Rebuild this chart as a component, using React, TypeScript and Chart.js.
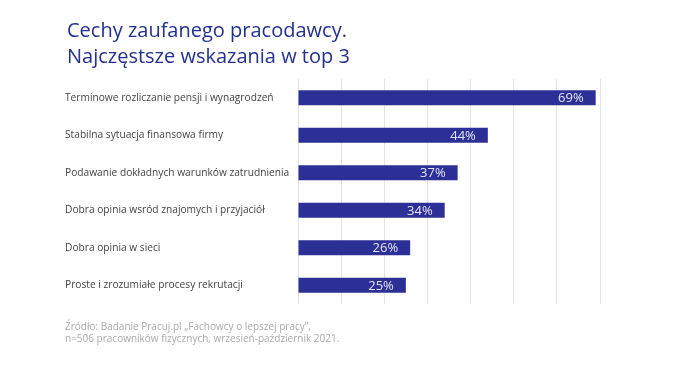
import React, { useEffect, useRef } from "react";
import { Chart, registerables } from "chart.js";

Chart.register(...registerables);

const categories = [
  "Terminowe rozliczanie pensji i wynagrodzeń",
  "Stabilna sytuacja finansowa firmy",
  "Podawanie dokładnych warunków zatrudnienia",
  "Dobra opinia wsród znajomych i przyjaciół",
  "Dobra opinia w sieci",
  "Proste i zrozumiałe procesy rekrutacji",
];
const values = [69, 44, 37, 34, 26, 25];
const titleLines = ["Cechy zaufanego pracodawcy.", "Najczęstsze wskazania w top 3"];
const footerLines = [
  "Źródło: Badanie Pracuj.pl „Fachowcy o lepszej pracy”,",
  "n=506 pracowników fizycznych, wrzesień-październik 2021.",
];

const FONT = "'Open Sans', sans-serif";
const BAR = "#2c2f95";

const valueLabels = {
  id: "valueLabels",
  afterDatasetsDraw(chart: any) {
    const ctx = chart.ctx;
    const meta = chart.getDatasetMeta(0);
    ctx.save();
    ctx.font = `13px ${FONT}`;
    ctx.fillStyle = "#e4e6f7";
    ctx.textAlign = "right";
    ctx.textBaseline = "middle";
    meta.data.forEach((bar: any, i: number) => {
      ctx.fillText(values[i] + "%", bar.x - 12, bar.y + 1);
    });
    ctx.restore();
  },
};

export default function App() {
  const ref = useRef<HTMLCanvasElement>(null);
  useEffect(() => {
    const chart = new Chart(ref.current!, {
      type: "bar",
      data: {
        labels: categories,
        datasets: [
          {
            data: values,
            backgroundColor: BAR,
            borderWidth: 0,
            barPercentage: 0.4,
            categoryPercentage: 1,
          },
        ],
      },
      options: {
        indexAxis: "y",
        responsive: false,
        animation: false,
        layout: { padding: { left: 65, top: 79, right: 100, bottom: 73 } },
        plugins: { legend: { display: false }, tooltip: { enabled: false } },
        scales: {
          x: {
            min: 0,
            max: 70,
            ticks: { display: false, stepSize: 10 },
            grid: { color: "#e3e3e3", lineWidth: 1, drawTicks: false },
            border: { display: false },
          },
          y: {
            ticks: {
              crossAlign: "far",
              color: "#444",
              font: { family: FONT, size: 10.2 },
              padding: 0,
            },
            grid: { display: false, drawTicks: false },
            border: { display: false },
            afterFit(scale: any) {
              scale.width = 233;
            },
          },
        },
      },
      plugins: [valueLabels],
    });
    return () => chart.destroy();
  }, []);

  return (
    <div
      style={{
        position: "absolute",
        left: 0,
        top: 0,
        width: 700,
        height: 377,
        background: "#fff",
        fontFamily: FONT,
      }}
    >
      <canvas ref={ref} width={700} height={377} style={{ position: "absolute", left: 0, top: 0 }} />
      <div
        style={{
          position: "absolute",
          left: 67,
          top: 17,
          color: "#22308f",
          fontSize: 20,
          fontWeight: 500,
          lineHeight: "26px",
        }}
      >
        {titleLines.map((t) => (
          <div key={t}>{t}</div>
        ))}
      </div>
      <div
        style={{
          position: "absolute",
          left: 65,
          top: 321,
          color: "#aaaaaa",
          fontSize: 10,
          lineHeight: "11.5px",
        }}
      >
        {footerLines.map((t) => (
          <div key={t}>{t}</div>
        ))}
      </div>
    </div>
  );
}
